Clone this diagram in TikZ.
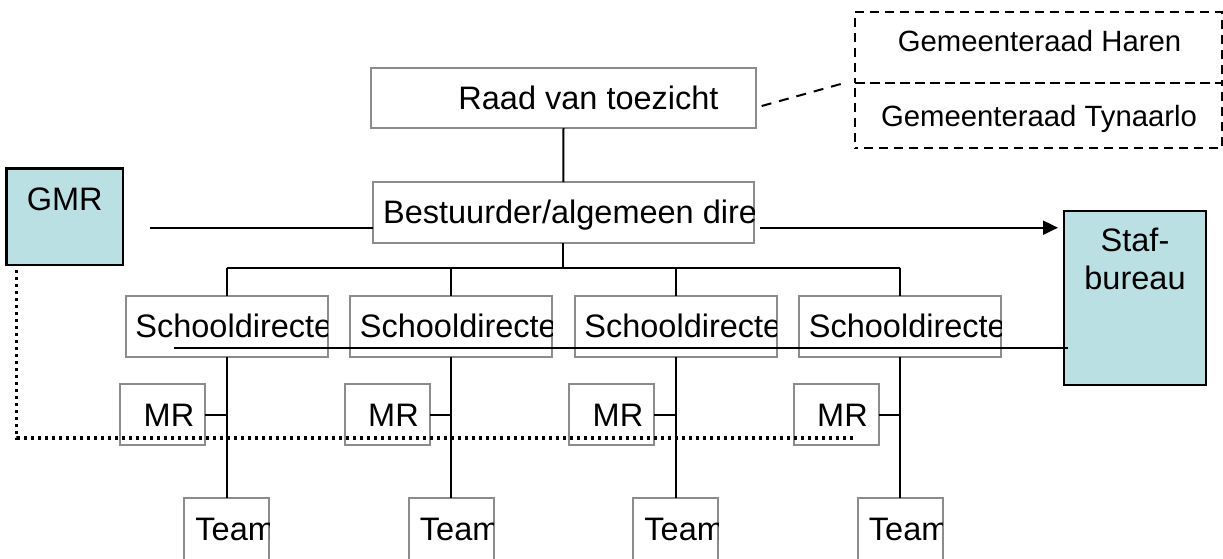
\documentclass[tikz,border=0pt]{standalone}
\usepackage{fontspec}
\setmainfont{Liberation Sans}
\usetikzlibrary{arrows.meta}
\definecolor{boxgrey}{RGB}{140,140,140}
\definecolor{cyanfill}{RGB}{187,224,227}
\begin{document}
\begin{tikzpicture}[x=0.5pt,y=-0.5pt,
  wbox/.style={draw=boxgrey, line width=1pt, fill=white, rectangle, inner sep=0pt, outer sep=0pt},
  cbox/.style={draw=black, line width=1.2pt, fill=cyanfill, rectangle, inner sep=0pt, outer sep=0pt},
  dbox/.style={draw=black, line width=1pt, dash pattern=on 4.5pt off 3pt, rectangle, inner sep=0pt, outer sep=0pt},
  conn/.style={draw=black, line width=1pt},
  dotline/.style={draw=black, line width=1.7pt, dash pattern=on 1.7pt off 1.8pt},
  lbl/.style={font=\fontsize{16.25pt}{19.5pt}\selectfont, inner sep=0pt, anchor=base west},
  clbl/.style={font=\fontsize{16.25pt}{19.5pt}\selectfont, inner sep=0pt, anchor=base},
  glbl/.style={font=\fontsize{14.65pt}{17.5pt}\selectfont, inner sep=0pt, anchor=base}
]
\useasboundingbox (0,0) rectangle (1223,558);

% Raad van toezicht
\node[wbox, minimum width=192.5pt, minimum height=30pt] (R) at (563.5,98) {};
\node[lbl] (Rt) at (458,109) {Raad van toezicht};

% Bestuurder
\node[wbox, minimum width=190.65pt, minimum height=30.5pt] (B) at (563.35,212.5) {};
\begin{scope}
\clip (B.south west) rectangle (B.north east);
\node[lbl] (Bt) at (382.7,223.5) {Bestuurder/algemeen dire};
\end{scope}

% Gemeenteraad boxes
\node[dbox, minimum width=183.35pt, minimum height=35.35pt] (H) at (1038.35,47.35) {};
\node[dbox, dash phase=3pt, minimum width=183.35pt, minimum height=32.8pt] (Ty) at (1038.35,115.5) {};
\node[glbl] (Ht) at (1039.5,51.7) {Gemeenteraad Haren};
\node[glbl] (Tyt) at (1039,126) {Gemeenteraad Tynaarlo};

% GMR and Stafbureau
\node[cbox, minimum width=58pt, minimum height=48.35pt] (G) at (64.7,216.65) {};
\node[clbl] (Gt) at (64.7,210) {GMR};
\node[cbox, minimum width=71pt, minimum height=87pt] (F) at (1135,298) {};
\node[clbl] (Ft1) at (1135,251.7) {Staf-};
\node[clbl] (Ft2) at (1135,289.3) {bureau};

% columns
\foreach \i/\dx in {1/0,2/224.5,3/449,4/673.5}{
  \node[wbox, minimum width=101pt, minimum height=30.5pt] (S\i) at (226.5+\dx,326.5) {};
  \begin{scope}
  \clip (S\i.south west) rectangle (S\i.north east);
  \node[lbl] (St\i) at (135+\dx,337) {Schooldirecte};
  \end{scope}
  \node[wbox, minimum width=42.5pt, minimum height=30.5pt] (M\i) at (162.5+\dx,414.5) {};
  \node[lbl] (Mt\i) at (143.3+\dx,426) {MR};
  \node[wbox, minimum width=42.5pt, minimum height=40pt] (T\i) at (226.5+\dx,538) {};
  \begin{scope}
  \clip (T\i.south west) rectangle (T\i.north east);
  \node[lbl] (Tt\i) at (195+\dx,540) {Team};
  \end{scope}
}

% connectors
\draw[conn] (R.south) -- (B.north);
\coordinate (bus) at (0,268.3);
\draw[conn] (B.south) -- (B.south |- bus);
\draw[conn] (S1.north |- bus) -- (S4.north |- bus);
\foreach \i in {1,2,3,4}{
  \draw[conn] (S\i.north |- bus) -- (S\i.north);
  \draw[conn] (S\i.south) -- (T\i.north);
  \draw[conn] (M\i.east) -- (M\i.east -| S\i.south);
}
\coordinate (gl) at (150,227.7);
\draw[conn] (gl) -- (gl -| B.west);
\coordinate (al) at (760,227.7);
\draw[conn, -{Triangle[length=7.5pt,width=7pt]}, shorten >=3pt] (al) -- (al -| F.west);
\coordinate (sl) at (174.3,347.7);
\draw[conn, shorten >=-1.85pt] (sl) -- (sl -| F.west);
\coordinate (dA) at (761.7,106);
\coordinate (dB) at (843.3,83.3);
\draw[conn, dash pattern=on 5pt off 4pt] (dA) -- (dB);
\coordinate (d1) at (16.7,270);
\coordinate (d2) at (16.7,438);
\coordinate (d3) at (856,438);
\draw[dotline] (d1) -- (d2) -- (d3);
\end{tikzpicture}
\end{document}
